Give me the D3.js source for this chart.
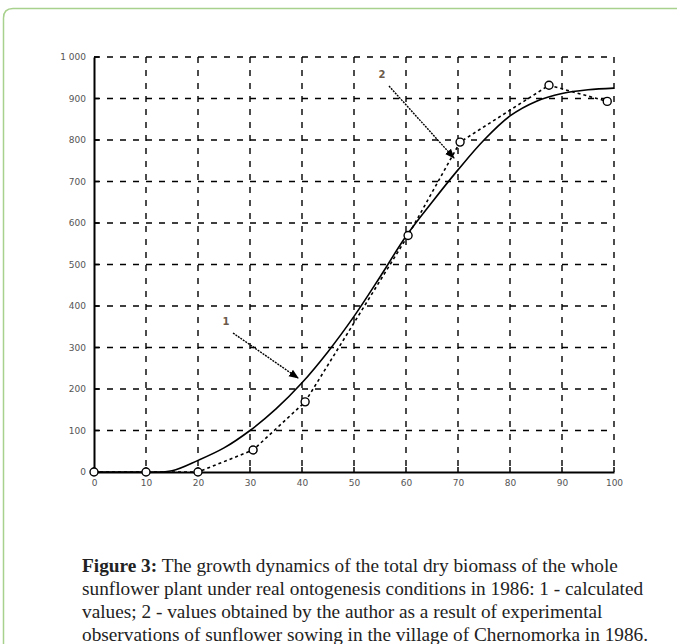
<!DOCTYPE html>
<html>
<head>
<meta charset="utf-8">
<script src="https://cdn.jsdelivr.net/npm/d3@7"></script>
<style>
  html, body { margin: 0; padding: 0; background: #fff; }
  svg { display: block; }
</style>
</head>
<body>
<svg id="chart" width="677" height="644"></svg>
<script>
// ---- data ----
const xTicks = [0, 10, 20, 30, 40, 50, 60, 70, 80, 90, 100];
const yTicks = [0, 100, 200, 300, 400, 500, 600, 700, 800, 900, 1000];
const yTickLabels = ["0", "100", "200", "300", "400", "500", "600", "700", "800", "900", "1 000"];
// series 1: calculated values (solid curve)
const calcX = [0, 10, 15, 20, 25, 30, 35, 40, 45, 50, 55, 60, 65, 70, 75, 80, 85, 90, 95, 100];
const calcY = [0, 0, 3, 28, 58, 100, 152, 215, 290, 375, 470, 568, 650, 728, 800, 858, 893, 912, 921, 925];
// series 2: experimental values (dashed with markers)
const obsX = [0, 10, 20, 30.6, 40.6, 60.4, 70.4, 87.5, 98.7];
const obsY = [0, 0, 0, 53, 169, 570, 795, 932, 893];
const captionBold = "Figure 3:";
const captionLines = [
  " The growth dynamics of the total dry biomass of the whole",
  "sunflower plant under real ontogenesis conditions in 1986: 1 - calculated",
  "values; 2 - values obtained by the author as a result of experimental",
  "observations of sunflower sowing in the village of Chernomorka in 1986."
];
const labelTexts = ["1", "2"];

// ---- drawing ----
const svg = d3.select("#chart");

// outer green frame
svg.append("path")
  .attr("d", "M3.5,700 L3.5,18 Q3.5,8.5 13,8.5 L700,8.5")
  .attr("fill", "none").attr("stroke", "#a9d18e").attr("stroke-width", 1.5);

const x = d3.scaleLinear().domain([0, 100]).range([94, 614]);
const y = d3.scaleLinear().domain([0, 1000]).range([472, 57]);

const g = svg.append("g");

// grid (dashed)
g.selectAll(".vg").data(xTicks.filter(d => d > 0)).enter().append("line")
  .attr("x1", d => x(d)).attr("x2", d => x(d))
  .attr("y1", y(1000)).attr("y2", y(0))
  .attr("stroke", "#000").attr("stroke-width", 1.4)
  .attr("stroke-dasharray", "6,7");
g.selectAll(".hg").data(yTicks.filter(d => d > 0)).enter().append("line")
  .attr("x1", x(0)).attr("x2", x(100))
  .attr("y1", d => y(d)).attr("y2", d => y(d))
  .attr("stroke", "#000").attr("stroke-width", 1.4)
  .attr("stroke-dasharray", "6,7");

// axes
const xAxis = d3.axisBottom(x).tickValues(xTicks).tickSize(0).tickPadding(8).tickFormat(d => String(d));
const yAxis = d3.axisLeft(y).tickValues(yTicks).tickSize(0).tickPadding(8).tickFormat((d, i) => yTickLabels[i]);

const gx = g.append("g").attr("transform", `translate(0,${y(0)})`).call(xAxis);
const gy = g.append("g").attr("transform", `translate(${x(0)},0)`).call(yAxis);
[gx, gy].forEach(a => {
  a.select(".domain").attr("stroke", "#000").attr("stroke-width", 2);
  a.selectAll("text").attr("fill", "#555").attr("font-family", "DejaVu Sans, sans-serif")
    .attr("font-size", 9);
});
// small tick marks
g.selectAll(".xt").data(xTicks).enter().append("line")
  .attr("x1", d => x(d)).attr("x2", d => x(d)).attr("y1", y(0)).attr("y2", y(0) - 5)
  .attr("stroke", "#000").attr("stroke-width", 1.5);
g.selectAll(".yt").data(yTicks).enter().append("line")
  .attr("x1", x(0)).attr("x2", x(0) + 5).attr("y1", d => y(d)).attr("y2", d => y(d))
  .attr("stroke", "#000").attr("stroke-width", 1.5);

// series 1 solid
const calc = calcX.map((v, i) => [v, calcY[i]]);
g.append("path").datum(calc)
  .attr("d", d3.line().x(d => x(d[0])).y(d => y(d[1])).curve(d3.curveCatmullRom.alpha(0.5)))
  .attr("fill", "none").attr("stroke", "#000").attr("stroke-width", 1.6);

// series 2 dashed
const obs = obsX.map((v, i) => [v, obsY[i]]);
g.append("path").datum(obs)
  .attr("d", d3.line().x(d => x(d[0])).y(d => y(d[1])))
  .attr("fill", "none").attr("stroke", "#000").attr("stroke-width", 1.6)
  .attr("stroke-dasharray", "3,3");
g.selectAll(".mk").data(obs).enter().append("circle")
  .attr("cx", d => x(d[0])).attr("cy", d => y(d[1])).attr("r", 4)
  .attr("fill", "#fff").attr("stroke", "#000").attr("stroke-width", 1.4);

// arrows with labels
svg.append("defs").append("marker")
  .attr("id", "ah").attr("viewBox", "0 0 10 10").attr("refX", 9).attr("refY", 5)
  .attr("markerWidth", 7).attr("markerHeight", 7).attr("orient", "auto")
  .append("path").attr("d", "M0,1 L10,5 L0,9 Z").attr("fill", "#000");

const arrows = [
  { label: labelTexts[0], lx: 226, ly: 325, x1: 233, y1: 333, x2: 298, y2: 378 },
  { label: labelTexts[1], lx: 382, ly: 78, x1: 389, y1: 86, x2: 454, y2: 158 }
];
arrows.forEach(a => {
  svg.append("line").attr("x1", a.x1).attr("y1", a.y1).attr("x2", a.x2).attr("y2", a.y2)
    .attr("stroke", "#000").attr("stroke-width", 1.4).attr("stroke-dasharray", "2,1")
    .attr("marker-end", "url(#ah)");
  svg.append("text").attr("x", a.lx).attr("y", a.ly).attr("text-anchor", "middle")
    .attr("font-family", "DejaVu Sans, sans-serif").attr("font-size", 10)
    .attr("font-weight", "bold").attr("fill", "#6b5a4a").text(a.label);
});

// caption
const cap = svg.append("g").attr("font-family", "Liberation Serif, Times New Roman, serif")
  .attr("font-size", 19.3).attr("fill", "#222");
captionLines.forEach((line, i) => {
  const t = cap.append("text").attr("x", 82).attr("y", 572 + i * 23);
  if (i === 0) t.append("tspan").attr("font-weight", "bold").text(captionBold);
  t.append("tspan").text(line);
});
</script>
</body>
</html>
